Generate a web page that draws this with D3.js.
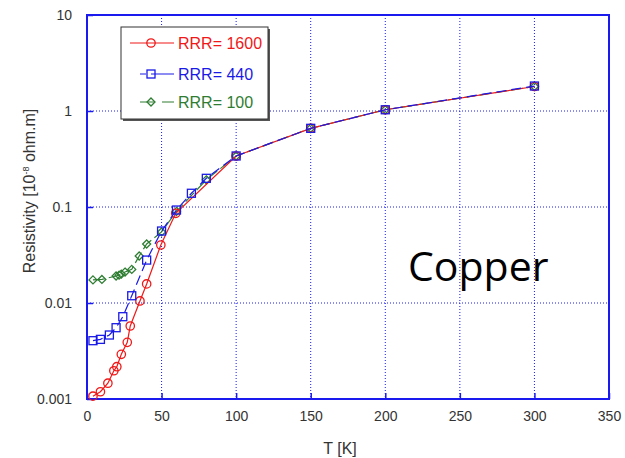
<!DOCTYPE html>
<html>
<head>
<meta charset="utf-8">
<script src="https://cdn.jsdelivr.net/npm/d3@7"></script>
<style>
  body { margin: 0; background: #fff; }
  text { font-family: "Liberation Sans", Arial, sans-serif; }
</style>
</head>
<body>
<div class="vis-chart"></div>
<script>
// temperatures (K) and resistivity values (10^-8 ohm.m)
const tempRRR1600 = [4, 9, 14, 18, 20, 23, 27, 29, 35.5, 40, 49.5, 59.5, 100, 150, 200, 300];
const rhoRRR1600 = [0.00107, 0.00119, 0.00146, 0.00197, 0.00217, 0.00292, 0.00389, 0.00576, 0.0105, 0.0158, 0.0402, 0.086, 0.34, 0.66, 1.03, 1.8];

const tempRRR440 = [4, 9, 15, 19.5, 24, 30, 40, 50, 60, 70, 80, 100, 150, 200, 300];
const rhoRRR440 = [0.00405, 0.00418, 0.00464, 0.00553, 0.0072, 0.0119, 0.028, 0.0562, 0.093, 0.139, 0.199, 0.34, 0.66, 1.03, 1.82];

const tempRRR100 = [4, 10, 19.5, 21.5, 23, 25.5, 30, 35, 40, 50, 60, 80, 100, 150, 200, 300];
const rhoRRR100 = [0.0174, 0.0176, 0.0191, 0.0195, 0.02, 0.021, 0.0224, 0.0309, 0.0412, 0.055, 0.09, 0.192, 0.34, 0.66, 1.03, 1.8];

const seriesNames = ["RRR= 1600", "RRR= 440", "RRR= 100"];
const xTicks = [0, 50, 100, 150, 200, 250, 300, 350];
const yTicks = [0.001, 0.01, 0.1, 1, 10];

const series = [
  { name: seriesNames[0], temp: tempRRR1600, rho: rhoRRR1600, color: "#f01818", dash: null, marker: "circle" },
  { name: seriesNames[1], temp: tempRRR440, rho: rhoRRR440, color: "#1a1ae6", dash: "10,5", marker: "square" },
  { name: seriesNames[2], temp: tempRRR100, rho: rhoRRR100, color: "#2e7d32", dash: "12,4", marker: "diamond" }
];

const margin = { top: 15, right: 16, bottom: 59, left: 87 };
const width = 625 - margin.left - margin.right;
const height = 458 - margin.top - margin.bottom;

const svg = d3
  .select(".vis-chart")
  .append("svg")
  .attr("width", 625)
  .attr("height", 458)
  .append("g")
  .attr("transform", "translate(" + margin.left + "," + margin.top + ")");

let x = d3.scaleLinear().domain([0, 350]).range([0, width]);
let y = d3.scaleLog().domain([0.001, 10]).range([height, 0]);

const frameColor = "#1a1aee";

// grid
svg.append("g")
  .selectAll("line")
  .data(xTicks.slice(1, -1))
  .enter()
  .append("line")
  .attr("x1", (d) => x(d)).attr("x2", (d) => x(d))
  .attr("y1", 0).attr("y2", height)
  .attr("stroke", frameColor)
  .attr("stroke-width", 1)
  .attr("stroke-dasharray", "1,2");

svg.append("g")
  .selectAll("line")
  .data(yTicks.slice(1, -1))
  .enter()
  .append("line")
  .attr("x1", 0).attr("x2", width)
  .attr("y1", (d) => y(d)).attr("y2", (d) => y(d))
  .attr("stroke", frameColor)
  .attr("stroke-width", 1)
  .attr("stroke-dasharray", "1,2");

// axes (ticks point inward)
let xAxis = svg.append("g")
  .attr("class", "x-axis")
  .attr("transform", "translate(0," + height + ")")
  .call(d3.axisBottom(x).tickValues(xTicks).tickSize(-6).tickPadding(12).tickFormat(d3.format("d")));

let yAxis = svg.append("g")
  .attr("class", "y-axis")
  .call(d3.axisLeft(y).tickValues(yTicks).tickSize(-6).tickPadding(15).tickFormat((d) => String(d)));

[xAxis, yAxis].forEach((a) => {
  a.select(".domain").remove();
  a.selectAll(".tick line").attr("stroke", frameColor).attr("stroke-width", 1.5);
  a.selectAll(".tick text")
    .attr("fill", "#333")
    .style("font-size", "14px")
    .style("font-family", "'Liberation Sans', Arial, sans-serif");
});

// frame
svg.append("rect")
  .attr("x", 0).attr("y", 0)
  .attr("width", width).attr("height", height)
  .attr("fill", "none")
  .attr("stroke", frameColor)
  .attr("stroke-width", 2);

// axis titles
svg.append("text")
  .attr("x", 340 - margin.left)
  .attr("y", 454 - margin.top)
  .style("text-anchor", "middle")
  .style("font-size", "16px")
  .attr("fill", "#333")
  .text("T [K]");

let yTitle = svg.append("text")
  .attr("transform", "rotate(-90)")
  .attr("x", -(191 - margin.top))
  .attr("y", -52)
  .style("text-anchor", "middle")
  .style("font-size", "16px")
  .attr("fill", "#333");
yTitle.append("tspan").text("Resistivity [10");
yTitle.append("tspan").attr("dy", -6).style("font-size", "9px").text("-8");
yTitle.append("tspan").attr("dy", 6).text(" ohm.m]");

// markers
const drawMarker = (g, kind, color) => {
  if (kind === "circle") {
    g.append("circle").attr("r", 4.2);
  } else if (kind === "square") {
    g.append("rect").attr("x", -4).attr("y", -4).attr("width", 8).attr("height", 8);
  } else {
    g.append("path").attr("d", "M0,-4L4,0L0,4L-4,0Z");
  }
  g.selectAll("*").attr("fill", "none").attr("stroke", color).attr("stroke-width", 1.3);
};

let line = d3.line()
  .x((d) => x(d[0]))
  .y((d) => y(d[1]));

// blue squares end up on top
const order = [2, 0, 1];
order.forEach((i) => {
  const s = series[i];
  const pts = s.temp.map((t, k) => [t, s.rho[k]]);
  const path = svg.append("path")
    .datum(pts)
    .attr("fill", "none")
    .attr("stroke", s.color)
    .attr("stroke-width", 1.2)
    .attr("d", line);
  if (s.dash) path.attr("stroke-dasharray", s.dash);
  pts.forEach((p) => {
    const g = svg.append("g").attr("transform", "translate(" + x(p[0]) + "," + y(p[1]) + ")");
    drawMarker(g, s.marker, s.color);
  });
});

// legend
const lg = svg.append("g").attr("transform", "translate(" + (121 - margin.left) + "," + (27 - margin.top) + ")");
lg.append("rect").attr("x", 2).attr("y", 2).attr("width", 147).attr("height", 92).attr("fill", "#555");
lg.append("rect").attr("width", 147).attr("height", 92).attr("fill", "#fff").attr("stroke", "#333").attr("stroke-width", 1);
const rowY = [16, 47, 75];
series.forEach((s, i) => {
  const row = lg.append("g").attr("transform", "translate(0," + rowY[i] + ")");
  const l = row.append("line")
    .attr("x1", i === 0 ? 9 : 19).attr("x2", 53)
    .attr("y1", 0).attr("y2", 0)
    .attr("stroke", s.color).attr("stroke-width", 1.2);
  if (s.dash) l.attr("stroke-dasharray", i === 1 ? "6,5,30" : "14,8,20");
  const m = row.append("g").attr("transform", "translate(30,0)");
  drawMarker(m, s.marker, s.color);
  row.append("text")
    .attr("x", 57).attr("y", 0).attr("dy", "0.35em")
    .style("font-size", "16px")
    .attr("fill", s.color)
    .text(s.name);
});

// annotation
svg.append("text")
  .attr("x", 408 - margin.left)
  .attr("y", 281 - margin.top)
  .style("font-family", "'Open Sans', sans-serif")
  .style("font-size", "41px")
  .attr("fill", "#000")
  .text("Copper");
</script>
</body>
</html>
